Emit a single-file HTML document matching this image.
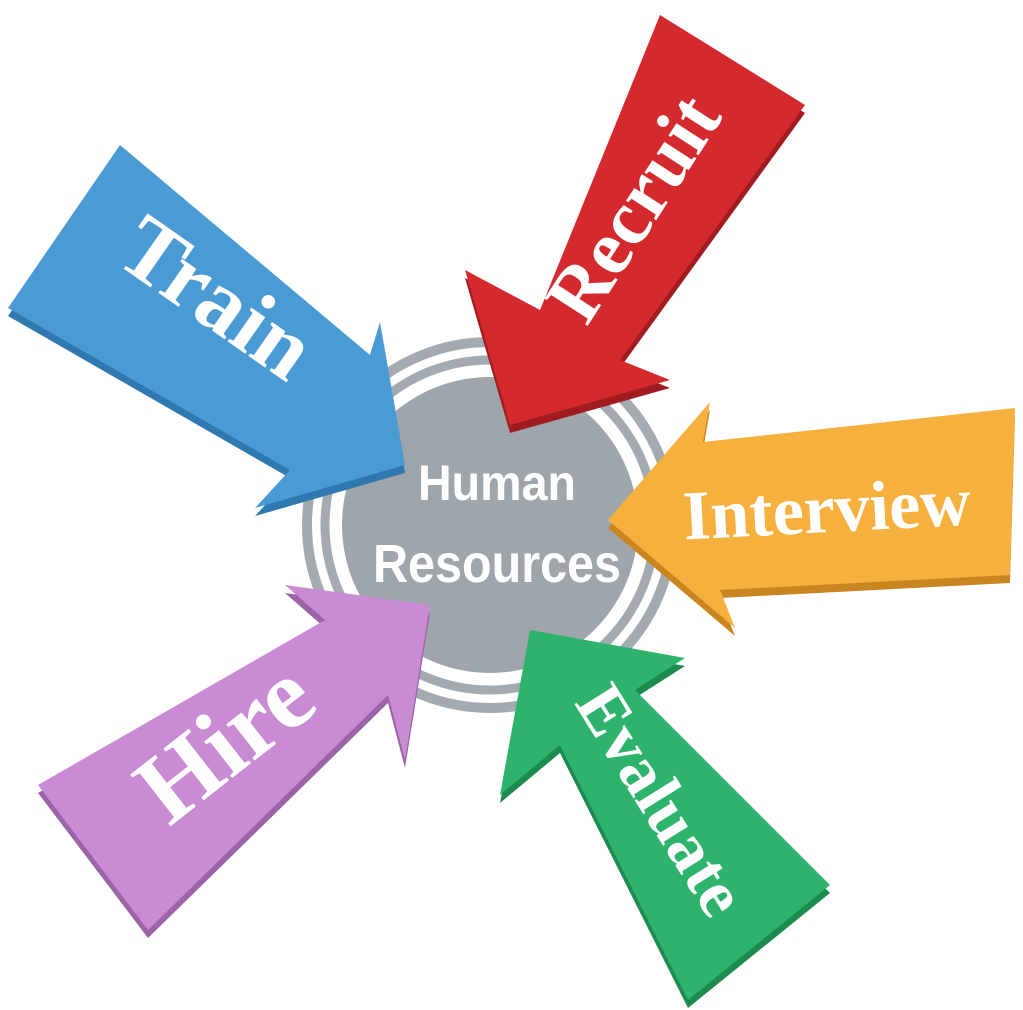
<!DOCTYPE html>
<html><head><meta charset="utf-8"><style>
html,body{margin:0;padding:0;background:#fff;}
svg{display:block;}
text{font-family:"Liberation Serif",serif;font-weight:bold;fill:#fff;}
</style></head><body>
<svg width="1023" height="1010" viewBox="0 0 1023 1010">
<g>
<circle cx="490" cy="525" r="183" fill="none" stroke="#a3abb1" stroke-width="10"/>
<circle cx="490" cy="525" r="165" fill="none" stroke="#a3abb1" stroke-width="9"/>
<circle cx="490" cy="525" r="148" fill="#9ea6ac"/>
<text x="497" y="500" font-size="50" text-anchor="middle" textLength="158" lengthAdjust="spacingAndGlyphs" style='font-family:"Liberation Sans",sans-serif'>Human</text>
<text x="497" y="582" font-size="54" text-anchor="middle" textLength="248" lengthAdjust="spacingAndGlyphs" style='font-family:"Liberation Sans",sans-serif'>Resources</text>
</g>
<g>
<polygon points="120,153 370,363 380,330 405,473 255,516 290,478 8,316" fill="#2f78b0"/>
<polygon points="120,145 370,355 380,322 405,465 255,508 290,470 8,308" fill="#4a9ad4"/>
<text transform="translate(200,322) rotate(35)" font-size="90" text-anchor="middle">Train</text>
</g>
<g>
<polygon points="660,23 805,113 620,368 670,388 510,433 465,278 540,318" fill="#a01c20"/>
<polygon points="660,15 805,105 620,360 670,380 510,425 465,270 540,310" fill="#d42a2e"/>
<text transform="translate(655,222) rotate(-57)" font-size="78" text-anchor="middle">Recruit</text>
</g>
<g>
<polygon points="1015,416 1010,583 720,598 735,636 608,528 710,410 703,450" fill="#c98620"/>
<polygon points="1015,408 1010,575 720,590 735,628 608,520 710,402 703,442" fill="#f6b03e"/>
<text transform="translate(828,532) rotate(-3)" font-size="70" text-anchor="middle">Interview</text>
</g>
<g>
<polygon points="530,638 685,666 635,698 830,893 688,1008 560,753 500,803" fill="#1d8a4f"/>
<polygon points="530,630 685,658 635,690 830,885 688,1000 560,745 500,795" fill="#2db36b"/>
<text transform="translate(642,812) rotate(58)" font-size="68" text-anchor="middle">Evaluate</text>
</g>
<g>
<polygon points="430,613 405,768 388,703 148,938 38,793 325,628 285,593" fill="#9a64a6"/>
<polygon points="430,605 405,760 388,695 148,930 38,785 325,620 285,585" fill="#c98bd4"/>
<text transform="translate(245,768) rotate(-38)" font-size="100" text-anchor="middle">Hire</text>
</g>
</svg>
</body></html>
